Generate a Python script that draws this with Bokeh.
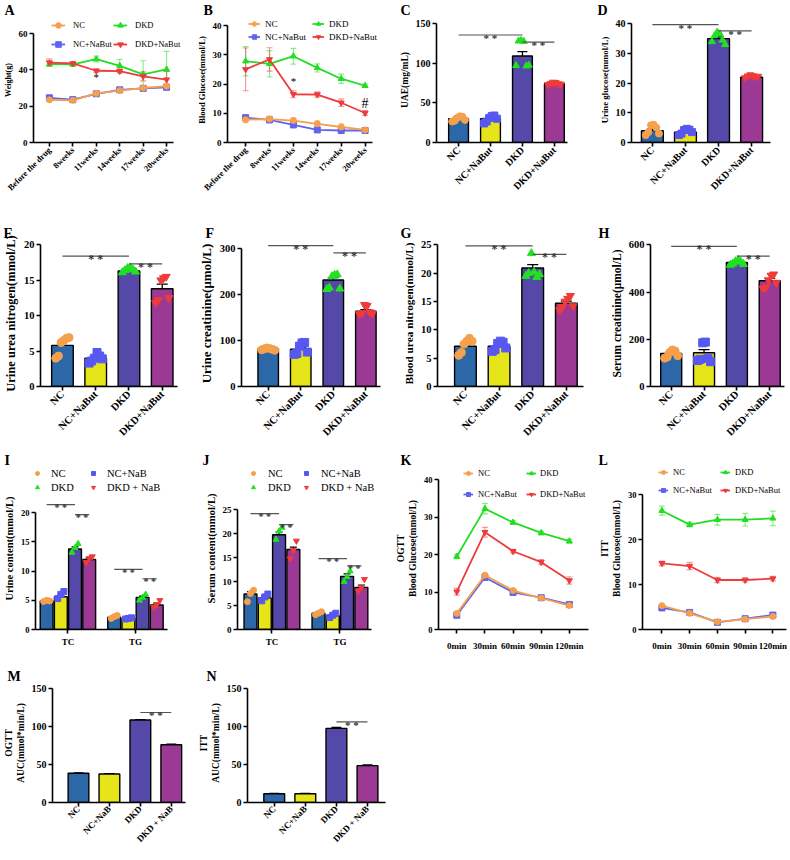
import math
from bokeh.plotting import figure
from bokeh.models import (Range1d, FixedTicker, Legend, LegendItem,
                          Whisker, TeeHead, ColumnDataSource)
from bokeh.layouts import row, column
from bokeh.embed import file_html
from bokeh.resources import INLINE
from bokeh.core.properties import value

FONT = "Liberation Serif"

# ---------------- categories / labels ----------------
GROUPS = ["NC", "NC+NaBut", "DKD", "DKD+NaBut"]
GROUPS_NAB = ["NC", "NC+NaB", "DKD", "DKD + NaB"]
WEEKS = ["Before the drug", "8weeks", "11weeks", "14weeks", "17weeks", "20weeks"]
TIMES = ["0min", "30min", "60min", "90min", "120min"]
LIPIDS = ["TC", "TG"]

# ---------------- A: body weight ----------------
A_nc = [23.5, 23.2, 27.0, 28.6, 30.0, 31.0]
A_nc_err = [0.8, 0.6, 0.9, 0.7, 1.0, 1.2]
A_ncnb = [24.6, 23.6, 26.8, 29.0, 29.8, 30.4]
A_ncnb_err = [0.6, 0.5, 0.7, 0.6, 0.6, 0.7]
A_dkd = [43.2, 43.0, 45.9, 42.2, 37.5, 40.2]
A_dkd_err = [1.2, 1.0, 1.6, 3.6, 7.5, 10.0]
A_dkdnb = [44.0, 43.5, 39.5, 39.3, 36.4, 34.6]
A_dkdnb_err = [2.0, 0.8, 0.9, 1.1, 2.5, 4.5]
A_star = (2, 36.3)

# ---------------- B: blood glucose ----------------
B_nc = [7.8, 8.0, 7.5, 6.4, 5.3, 4.3]
B_nc_err = [1.0, 1.0, 0.9, 1.0, 1.1, 0.4]
B_ncnb = [8.5, 7.7, 6.0, 4.3, 4.1, 4.1]
B_ncnb_err = [0.5, 0.5, 0.5, 0.5, 0.4, 0.4]
B_dkd = [27.8, 26.9, 29.5, 25.5, 21.8, 19.4]
B_dkd_err = [5.0, 4.5, 2.7, 1.4, 1.6, 0.6]
B_dkdnb = [25.0, 28.4, 16.5, 16.4, 13.6, 10.1]
B_dkdnb_err = [7.3, 4.0, 1.2, 0.9, 1.3, 0.8]
B_star = (2, 20.9)
B_hash = (5, 13.3)

# ---------------- C..H: bar charts ----------------
C_mean = [30.0, 30.0, 109.0, 74.0]
C_err = [2.5, 2.5, 5.5, 1.2]
C_pts = [[26.5, 27.5, 31.0, 33.0, 32.5, 28.5],
         [24.0, 26.5, 31.0, 33.5, 34.0, 30.0],
         [97.0, 128.0, 128.5, 127.5, 96.5, 97.5],
         [73.0, 74.5, 76.0, 75.5, 74.0, 73.5]]
C_sig = [(0, 2, 135.5), (2, 3, 126.4)]

D_mean = [4.0, 3.5, 35.0, 22.0]
D_err = [0.7, 0.5, 0.6, 0.3]
D_pts = [[2.5, 3.5, 5.8, 6.0, 5.0, 3.0],
         [2.5, 3.0, 4.2, 4.6, 4.3, 3.5],
         [34.0, 36.0, 37.2, 36.6, 34.5, 33.0],
         [21.8, 22.4, 22.8, 22.5, 22.1, 22.3]]
D_sig = [(0, 2, 39.7), (2, 3, 37.6)]

E_mean = [5.8, 4.0, 16.3, 13.8]
E_err = [0.45, 0.25, 0.12, 0.65]
E_pts = [[4.0, 4.3, 6.2, 6.5, 6.8, 6.9],
         [3.3, 3.6, 4.0, 4.8, 4.3, 3.9],
         [16.1, 16.4, 16.7, 16.8, 16.5, 16.2],
         [11.8, 12.2, 15.0, 15.3, 15.5, 12.5]]
E_sig = [(0, 2, 18.4), (2, 3, 17.3)]

F_mean = [82.0, 81.0, 232.0, 164.0]
F_err = [1.5, 4.5, 5.0, 3.5]
F_pts = [[80, 82, 84, 83, 81, 79],
         [70, 72, 88, 95, 96, 75],
         [212, 215, 240, 243, 244, 213],
         [158, 160, 178, 176, 162, 159]]
F_sig = [(0, 2, 307.0), (2, 3, 291.0)]

G_mean = [7.1, 7.1, 20.9, 14.7]
G_err = [0.45, 0.3, 0.6, 0.35]
G_pts = [[5.5, 6.0, 7.5, 8.0, 8.5, 8.0],
         [6.2, 6.5, 7.6, 8.0, 7.8, 6.8],
         [19.5, 20.0, 23.5, 20.2, 19.3, 19.8],
         [13.5, 14.0, 15.0, 15.5, 16.0, 14.2]]
G_sig = [(0, 2, 24.8), (2, 3, 23.3)]

H_mean = [140.0, 143.0, 525.0, 448.0]
H_err = [8.0, 13.0, 5.0, 10.0]
H_pts = [[120, 125, 145, 155, 150, 130],
         [110, 115, 185, 188, 120, 105],
         [515, 520, 530, 535, 528, 518],
         [415, 420, 450, 470, 475, 440]]
H_sig = [(0, 2, 593.0), (2, 3, 552.0)]

# ---------------- I, J: lipids (TC, TG) ----------------
I_TC = [4.9, 5.6, 13.8, 12.0]
I_TC_err = [0.1, 0.35, 0.35, 0.25]
I_TG = [2.1, 1.9, 5.5, 4.2]
I_TG_err = [0.15, 0.1, 0.2, 0.3]
I_pts_TC = [[4.8, 5.0, 4.9], [5.3, 6.0, 6.5], [13.2, 14.0, 14.7], [11.5, 12.2, 12.5]]
I_pts_TG = [[1.9, 2.2, 2.4], [1.8, 1.9, 2.0], [5.0, 5.5, 6.0], [3.8, 4.3, 5.0]]
I_sig = [(0, 0, 2, 21.4), (0, 2, 3, 19.7), (1, 0, 2, 10.3), (1, 2, 3, 8.7)]

J_TC = [7.4, 6.6, 19.8, 16.7]
J_TC_err = [0.5, 0.4, 0.55, 0.5]
J_TG = [3.4, 2.9, 11.1, 8.8]
J_TG_err = [0.25, 0.35, 0.5, 0.45]
J_pts_TC = [[5.8, 7.5, 8.2], [6.0, 6.8, 7.4], [18.8, 20.5, 21.3], [14.8, 16.5, 18.5]]
J_pts_TG = [[3.1, 3.4, 3.7], [2.5, 3.0, 3.4], [10.0, 11.0, 12.2], [8.0, 8.8, 10.5]]
J_sig = [(0, 0, 2, 24.2), (0, 2, 3, 21.9), (1, 0, 2, 14.8), (1, 2, 3, 13.3)]

# ---------------- K: OGTT, L: ITT ----------------
K_nc = [4.3, 14.5, 10.4, 8.4, 6.4]
K_nc_err = [0.3, 0.5, 0.4, 0.3, 0.4]
K_ncnb = [3.8, 13.9, 9.9, 8.5, 6.7]
K_ncnb_err = [0.3, 0.4, 0.3, 0.3, 0.3]
K_dkd = [19.5, 32.3, 28.6, 25.8, 23.6]
K_dkd_err = [0.6, 1.4, 0.5, 0.5, 0.5]
K_dkdnb = [10.1, 26.0, 20.9, 18.0, 13.1]
K_dkdnb_err = [0.9, 1.3, 0.5, 0.7, 1.0]

L_nc = [5.3, 3.6, 1.7, 2.3, 2.9]
L_nc_err = [0.3, 0.3, 0.3, 0.3, 0.3]
L_ncnb = [4.8, 3.8, 1.6, 2.4, 3.2]
L_ncnb_err = [0.3, 0.3, 0.3, 0.3, 0.3]
L_dkd = [26.4, 23.3, 24.4, 24.4, 24.7]
L_dkd_err = [1.0, 0.5, 1.2, 1.4, 1.6]
L_dkdnb = [14.7, 14.1, 11.0, 11.0, 11.3]
L_dkdnb_err = [0.5, 0.8, 0.6, 0.5, 0.5]

# ---------------- M, N: AUC ----------------
M_mean = [38.5, 37.5, 108.5, 76.0]
M_err = [0.6, 0.6, 0.6, 0.9]
M_sig = [(2, 3, 118.4)]
N_mean = [11.5, 11.5, 97.5, 48.5]
N_err = [0.4, 0.4, 1.2, 0.8]
N_sig = [(2, 3, 106.0)]

# ---------------- styles ----------------
BAR_COLORS = ["#2C68A8", "#E5E51A", "#5448A9", "#9B3995"]
PT_COLORS = ["#F5A04C", "#5858F0", "#22E022", "#F03B3B"]
LINE_COLORS = ["#F5A04C", "#6262F0", "#22DD22", "#EE3B3B"]
MARKERS = ["circle", "square", "triangle", "inverted_triangle"]
JIT6 = [-0.2, -0.12, -0.04, 0.04, 0.12, 0.2]
JIT3 = [-0.045, 0.0, 0.045]
OFF = [-0.315, -0.105, 0.105, 0.315]
TOPB = 17
ROW_BOTTOM_AXIS = [142, 386, 629, 810]


def make_fig(box, fx, xr, y0px, ytpx, ytop, yticks, ylabel, ylab_size,
             tick_size, xticks, xlabels, xlab_size, letter, letter_x,
             xrot=True, fxe=None, xstand=2):
    bx0, by0, bx1, by1 = box
    W, H = bx1 - bx0, by1 - by0
    if fxe is None:
        fxe = fx[1]
    left = int(round(fx[0] - bx0))
    right = max(0, W - int(round(fxe - bx0)))
    fw = W - left - right
    top = TOPB
    bottom = by1 - int(round(y0px))
    fh = H - top - bottom
    ppu = (y0px - ytpx) / ytop
    yend = fh / ppu
    xppu = (fx[1] - fx[0]) / (xr[1] - xr[0])
    xend = xr[0] + fw / xppu
    p = figure(width=W, height=H, title=letter,
               min_border_left=left, min_border_right=right,
               min_border_top=top, min_border_bottom=bottom,
               x_range=Range1d(xr[0], xend), y_range=Range1d(0, yend),
               toolbar_location=None, output_backend="svg")
    p.title.text_font = FONT
    p.title.text_font_style = "bold"
    p.title.text_font_size = "14px"
    p.title.text_color = "black"
    p.title.align = "left"
    p.title.standoff = 0
    p.title.offset = letter_x - (bx0 + left)
    p.xgrid.visible = False
    p.ygrid.visible = False
    p.outline_line_color = None
    xa = p.xaxis[0]
    ya = p.yaxis[0]
    for ax in (xa, ya):
        ax.axis_line_width = 1.6
        ax.axis_line_color = "black"
        ax.major_tick_line_width = 1.6
        ax.major_tick_line_color = "black"
        ax.major_tick_in = 0
        ax.major_tick_out = 4
        ax.minor_tick_line_color = None
        ax.major_label_text_font = FONT
        ax.major_label_text_font_style = "bold"
        ax.major_label_text_color = "black"
        ax.major_label_standoff = 2
    ya.major_label_text_font_size = f"{tick_size}px"
    ya.ticker = FixedTicker(ticks=yticks)
    ya.bounds = (0, ytop)
    ya.axis_label = ylabel
    ya.axis_label_text_font = FONT
    ya.axis_label_text_font_style = "bold"
    ya.axis_label_text_font_size = f"{ylab_size}px"
    ya.axis_label_text_color = "black"
    ya.axis_label_standoff = 3
    xa.ticker = FixedTicker(ticks=xticks)
    xa.bounds = (xr[0], xr[1])
    xa.major_label_overrides = {t: l for t, l in zip(xticks, xlabels)}
    xa.major_label_text_font_size = f"{xlab_size}px"
    xa.major_label_standoff = xstand
    if xrot:
        xa.major_label_orientation = math.pi / 4
    g = dict(fx0=bx0 + left, fbot=by0 + top + fh)
    return p, g


def add_legend(p, g, entries, x, ytop, gw, gh, standoff, spacing, fs):
    bottom = ytop + 2 * gh + spacing
    leg = Legend(items=[LegendItem(label=l, renderers=r) for l, r in entries],
                 location=(int(round(x - g["fx0"])), int(round(g["fbot"] - bottom))),
                 orientation="vertical", padding=0, margin=0, spacing=int(spacing),
                 glyph_width=int(gw), glyph_height=int(gh), label_height=int(gh),
                 label_standoff=int(standoff), label_text_font=FONT,
                 label_text_font_size=f"{fs}px", label_text_color="black",
                 border_line_color=None, background_fill_alpha=0)
    p.add_layout(leg)


def draw_err(p, xs, means, errs, head, color="black", alpha=1.0, lw=1.3):
    src = ColumnDataSource(dict(x=xs,
                                lo=[m - e for m, e in zip(means, errs)],
                                hi=[m + e for m, e in zip(means, errs)]))
    p.add_layout(Whisker(source=src, base="x", lower="lo", upper="hi",
                         line_color=color, line_alpha=alpha, line_width=lw,
                         upper_head=TeeHead(size=head, line_color=color,
                                            line_alpha=alpha, line_width=lw),
                         lower_head=TeeHead(size=head, line_color=color,
                                            line_alpha=alpha, line_width=lw)))


def draw_sig(p, x1, x2, y, fs):
    p.segment(x0=[x1], y0=[y], x1=[x2], y1=[y], line_color="#555555",
              line_width=1.2)
    p.text(x=[(x1 + x2) / 2], y=[y], text=["* *"], text_align="center",
           text_baseline="alphabetic", y_offset=3, text_font=value(FONT),
           text_font_style="bold", text_font_size=f"{fs}px",
           text_color="#333333")


def bar_panel(p, means, errs, pts, width, head, psize, sig, sfs):
    xs = list(range(len(means)))
    p.vbar(x=xs, top=means, width=width, fill_color=BAR_COLORS,
           line_color="black", line_width=1.4)
    if pts is not None:
        for k in range(4):
            p.scatter(x=[xs[k] + j for j in JIT6[:len(pts[k])]], y=pts[k],
                      marker=MARKERS[k], size=psize, fill_color=PT_COLORS[k],
                      line_color=PT_COLORS[k])
    draw_err(p, xs, means, errs, head)
    for a, b, y in sig:
        draw_sig(p, a, b, y, sfs)


def group_panel(p, tc, tc_err, tg, tg_err, pts_tc, pts_tg, sig, width, head,
                psize, sfs):
    xs = [g + OFF[k] for g in range(len(LIPIDS)) for k in range(4)]
    means = tc + tg
    errs = tc_err + tg_err
    p.vbar(x=xs, top=means, width=width, fill_color=BAR_COLORS * 2,
           line_color="black", line_width=1.4)
    rs = {}
    for gi, pts in enumerate([pts_tc, pts_tg]):
        for k in range(4):
            r = p.scatter(x=[gi + OFF[k] + j for j in JIT3[:len(pts[k])]],
                          y=pts[k], marker=MARKERS[k], size=psize,
                          fill_color=PT_COLORS[k], line_color=PT_COLORS[k])
            if gi == 0:
                rs[k] = [r]
    draw_err(p, xs, means, errs, head)
    for gi, a, b, y in sig:
        draw_sig(p, gi + OFF[a], gi + OFF[b], y, sfs)
    return rs


def line_panel(p, series, errs, size=6, head=6):
    xs = list(range(len(series[0])))
    rs = {}
    for k in (1, 0, 2, 3):
        c = LINE_COLORS[k]
        src = ColumnDataSource(dict(
            x=xs, y=series[k],
            lo=[m - e for m, e in zip(series[k], errs[k])],
            hi=[m + e for m, e in zip(series[k], errs[k])]))
        p.add_layout(Whisker(source=src, base="x", lower="lo", upper="hi",
                             line_color=c, line_alpha=0.5, line_width=1.2,
                             upper_head=TeeHead(size=head, line_color=c,
                                                line_alpha=0.5, line_width=1.2),
                             lower_head=TeeHead(size=head, line_color=c,
                                                line_alpha=0.5, line_width=1.2)))
        lr = p.line("x", "y", source=src, line_color=c, line_width=1.8)
        sr = p.scatter("x", "y", source=src, marker=MARKERS[k], size=size,
                       fill_color=c, line_color=c)
        rs[k] = [lr, sr]
    return rs


def note(p, x, y, t, fs):
    p.text(x=[x], y=[y], text=[t], text_align="center", text_baseline="middle",
           text_font=value(FONT), text_font_size=f"{fs}px", text_color="black")


idx4 = list(range(4))
wk = list(range(len(WEEKS)))
tm = list(range(len(TIMES)))
R1, R2, R3, R4 = ROW_BOTTOM_AXIS

# ================= Row 1 =================
pA, gA = make_fig((0, 0, 193, 223), (32, 173), (-0.678, 5.297), R1, 33, 60,
                  [0, 20, 40, 60], "Weight(g)", 8, 9, wk, WEEKS, 8.5, "A", 3, fxe=182)
rA = line_panel(pA, [A_nc, A_ncnb, A_dkd, A_dkdnb],
                [A_nc_err, A_ncnb_err, A_dkd_err, A_dkdnb_err])
note(pA, A_star[0], A_star[1], "*", 11)
add_legend(pA, gA, [("NC", rA[0]), ("NC+NaBut", rA[1])], 50, 18, 14, 14, 8, 5, 8.5)
add_legend(pA, gA, [("DKD", rA[2]), ("DKD+NaBut", rA[3])], 112, 18, 14, 14, 8, 5, 8.5)

pB, gB = make_fig((193, 0, 390, 223), (222, 372), (-0.758, 5.32), R1, 25, 40,
                  [0, 10, 20, 30, 40], "Blood Glucose(mmol/L)", 8.6, 9, wk, WEEKS, 8.5,
                  "B", 198, fxe=380)
rB = line_panel(pB, [B_nc, B_ncnb, B_dkd, B_dkdnb],
                [B_nc_err, B_ncnb_err, B_dkd_err, B_dkdnb_err])
note(pB, B_star[0], B_star[1], "*", 11)
note(pB, B_hash[0], B_hash[1], "#", 14)
add_legend(pB, gB, [("NC", rB[0]), ("NC+NaBut", rB[1])], 243, 17.5, 12, 11, 5, 2, 9)
add_legend(pB, gB, [("DKD", rB[2]), ("DKD+NaBut", rB[3])], 307, 17.5, 12, 11, 5, 2, 9)

pC, gC = make_fig((390, 0, 590, 223), (436, 567), (-0.69, 3.41), R1, 23, 150,
                  [0, 50, 100, 150], "UAE(mg/mL)", 9.5, 10, idx4, GROUPS, 10, "C", 400)
bar_panel(pC, C_mean, C_err, C_pts, 0.62, 10, 7, C_sig, 11)

pD, gD = make_fig((590, 0, 782, 223), (631, 770), (-0.63, 3.57), R1, 23.3, 40,
                  [0, 10, 20, 30, 40], "Urine glucose(mmol/L)", 8.8, 10, idx4, GROUPS, 10,
                  "D", 597)
bar_panel(pD, D_mean, D_err, D_pts, 0.66, 10, 7, D_sig, 11)

# ================= Row 2 =================
pE, gE = make_fig((0, 223, 195, 450), (39, 177), (-0.66, 3.46), R2, 244.3, 20,
                  [0, 5, 10, 15, 20], "Urine urea nitrogen(mmol/L)", 12.5, 10.5,
                  idx4, GROUPS, 10.5, "E", 2)
bar_panel(pE, E_mean, E_err, E_pts, 0.65, 11, 8, E_sig, 12)

pF, gF = make_fig((195, 223, 390, 450), (239, 380), (-0.82, 3.45), R2, 248.3, 300,
                  [0, 100, 200, 300], "Urine creatinine(μmol/L)", 13, 10.5,
                  idx4, GROUPS, 10.5, "F", 203)
bar_panel(pF, F_mean, F_err, F_pts, 0.63, 11, 8, F_sig, 12)

pG, gG = make_fig((390, 223, 590, 450), (437, 583), (-0.83, 3.51), R2, 244.3, 25,
                  [0, 5, 10, 15, 20, 25], "Blood urea nitrogen(mmol/L)", 11.3, 10.5,
                  idx4, GROUPS, 10.5, "G", 400)
bar_panel(pG, G_mean, G_err, G_pts, 0.645, 11, 8, G_sig, 12)

pH, gH = make_fig((590, 223, 788, 450), (650, 784), (-0.63, 3.45), R2, 244.3, 600,
                  [0, 200, 400, 600], "Serum creatinine(μmol/L)", 11.5, 10.5,
                  idx4, GROUPS, 10.5, "H", 598)
bar_panel(pH, H_mean, H_err, H_pts, 0.64, 11, 8, H_sig, 12)

# ================= Row 3 =================
pI, gI = make_fig((0, 450, 195, 666), (34.3, 167), (-0.48, 1.47), R3, 512.3, 20,
                  [0, 5, 10, 15, 20], "Urine content(mmol/L)", 10.5, 8.5,
                  [0, 1], LIPIDS, 9, "I", 3, xrot=False, fxe=172, xstand=3)
rI = group_panel(pI, I_TC, I_TC_err, I_TG, I_TG_err, I_pts_TC, I_pts_TG, I_sig,
                 0.19, 7, 6, 10)
add_legend(pI, gI, [("NC", rI[0]), ("DKD", rI[2])], 30.7, 466, 10, 14, 9, 0, 10.5)
add_legend(pI, gI, [("NC+NaB", rI[1]), ("DKD + NaB", rI[3])], 86.7, 466, 10, 14, 9, 0, 10.5)

pJ, gJ = make_fig((195, 450, 390, 666), (237.3, 371.7), (-0.506, 1.47), R3, 509.3, 25,
                  [0, 5, 10, 15, 20, 25], "Serum content(mmol/L)", 10.7, 9,
                  [0, 1], LIPIDS, 9, "J", 202, xrot=False, fxe=385, xstand=3)
rJ = group_panel(pJ, J_TC, J_TC_err, J_TG, J_TG_err, J_pts_TC, J_pts_TG, J_sig,
                 0.19, 7, 6, 10)
add_legend(pJ, gJ, [("NC", rJ[0]), ("DKD", rJ[2])], 248.3, 466, 10, 14, 10, 0, 10.5)
add_legend(pJ, gJ, [("NC+NaB", rJ[1]), ("DKD + NaB", rJ[3])], 300.7, 466, 10, 14, 10, 0, 10.5)

pK, gK = make_fig((390, 450, 590, 666), (438.3, 588.3), (-0.65, 4.68), R3, 479.3, 40,
                  [0, 10, 20, 30, 40], "OGTT\nBlood Glucose(mmol/L)", 9.5, 8.5,
                  tm, TIMES, 9, "K", 400, xrot=False, xstand=7, fxe=590)
rK = line_panel(pK, [K_nc, K_ncnb, K_dkd, K_dkdnb],
                [K_nc_err, K_ncnb_err, K_dkd_err, K_dkdnb_err])
add_legend(pK, gK, [("NC", rK[0]), ("NC+NaBut", rK[1])], 462.7, 466, 10, 14, 5, 7, 8.5)
add_legend(pK, gK, [("DKD", rK[2]), ("DKD+NaBut", rK[3])], 526, 466, 10, 14, 4, 7, 8.5)

pL, gL = make_fig((590, 450, 788, 666), (642.3, 786), (-0.7, 4.48), R3, 494, 30,
                  [0, 10, 20, 30], "ITT\nBlood Glucose(mmol/L)", 9.5, 8.5,
                  tm, TIMES, 9, "L", 598, xrot=False, xstand=7)
rL = line_panel(pL, [L_nc, L_ncnb, L_dkd, L_dkdnb],
                [L_nc_err, L_ncnb_err, L_dkd_err, L_dkdnb_err])
add_legend(pL, gL, [("NC", rL[0]), ("NC+NaBut", rL[1])], 658, 466, 10, 12, 5, 6, 8.5)
add_legend(pL, gL, [("DKD", rL[2]), ("DKD+NaBut", rL[3])], 720, 466, 10, 12, 5, 6, 8.5)

# ================= Row 4 =================
pM, gM = make_fig((0, 666, 195, 850), (48.3, 185), (-0.84, 3.45), R4, 688.3, 150,
                  [0, 50, 100, 150], "OGTT\nAUC(mmol*min/L)", 9.5, 10, idx4, GROUPS_NAB, 9,
                  "M", 3, xstand=1)
bar_panel(pM, M_mean, M_err, None, 0.67, 10, 7, M_sig, 11)

pN, gN = make_fig((195, 666, 390, 850), (243.3, 385), (-0.86, 3.57), R4, 688.3, 150,
                  [0, 50, 100, 150], "ITT\nAUC(mmol*min/L)", 9.5, 10, idx4, GROUPS_NAB, 9,
                  "N", 202, xstand=1)
bar_panel(pN, N_mean, N_err, None, 0.67, 10, 7, N_sig, 11)

layout = column(row(pA, pB, pC, pD), row(pE, pF, pG, pH),
                row(pI, pJ, pK, pL), row(pM, pN))

open("out.html", "w").write(file_html(layout, INLINE))
